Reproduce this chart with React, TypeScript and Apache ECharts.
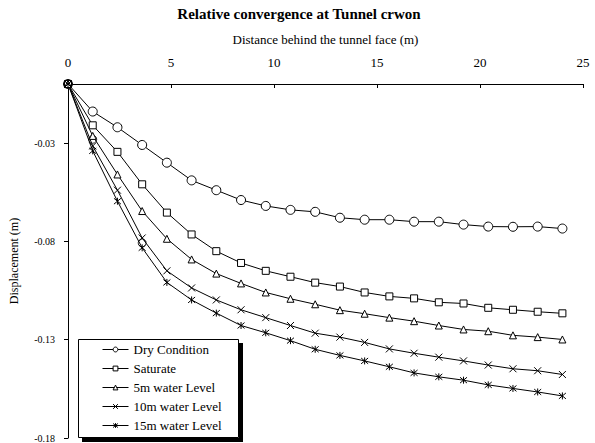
import React, { useEffect, useRef } from "react";
import * as echarts from "echarts";

const distance = [0, 1.2, 2.4, 3.6, 4.8, 6.0, 7.2, 8.4, 9.6, 10.8, 12.0, 13.2, 14.4, 15.6, 16.8, 18.0, 19.2, 20.4, 21.6, 22.8, 24.0];
const dryCondition = [0, -0.014, -0.022, -0.031, -0.040, -0.049, -0.054, -0.059, -0.062, -0.064, -0.065, -0.068, -0.069, -0.069, -0.070, -0.070, -0.0715, -0.0725, -0.0726, -0.0725, -0.0735];
const saturate = [0, -0.021, -0.0345, -0.051, -0.0654, -0.0765, -0.085, -0.091, -0.095, -0.098, -0.101, -0.103, -0.106, -0.108, -0.109, -0.111, -0.1116, -0.1138, -0.1148, -0.1158, -0.1166];
const water5m = [0, -0.0264, -0.046, -0.0646, -0.0787, -0.0892, -0.0964, -0.1014, -0.106, -0.1092, -0.112, -0.115, -0.1168, -0.1188, -0.1206, -0.1228, -0.1248, -0.1257, -0.1278, -0.1287, -0.1299];
const water10m = [0, -0.0315, -0.054, -0.0783, -0.095, -0.1037, -0.1098, -0.1148, -0.1188, -0.1228, -0.1267, -0.1287, -0.1314, -0.1347, -0.1369, -0.1389, -0.1408, -0.1429, -0.1448, -0.1458, -0.1477];
const water15m = [0, -0.034, -0.0596, -0.0833, -0.1009, -0.1098, -0.1165, -0.1228, -0.1265, -0.1305, -0.1349, -0.138, -0.1408, -0.1438, -0.1469, -0.1489, -0.1506, -0.153, -0.1548, -0.1566, -0.1586];
const strayX = [1.2, 3.6];
const strayY = [-0.0281, -0.0808];

const seriesNames = ["Dry Condition", "Saturate", "5m water Level", "10m water Level", "15m water Level"];
const yTickValues = [-0.18, -0.13, -0.08, -0.03];

const FONT = "Liberation Serif";
const CROSS = "path://M0,0L10,10M10,0L0,10";
const STAR = "path://M0,0L10,10M10,0L0,10M5,-1L5,11";

export default function App() {
  const ref = useRef<HTMLDivElement>(null);
  useEffect(() => {
    if (!ref.current) return;
    const chart = echarts.init(ref.current, undefined, { renderer: "svg" });
    const pairs = (ys: number[]) => distance.map((x, i) => [x, ys[i]]);
    const mk = (name: string, ys: number[], symbol: string, size: number) => ({
      name,
      type: "line",
      data: pairs(ys),
      symbol,
      symbolSize: size,
      showAllSymbol: true,
      lineStyle: { color: "#000", width: 1 },
      itemStyle: { color: "#fff", borderColor: "#000", borderWidth: 1 },
      emphasis: { disabled: true },
    });
    chart.setOption({
      animation: false,
      backgroundColor: "#fff",
      textStyle: { fontFamily: FONT },
      title: {
        text: "Relative convergence at Tunnel crwon",
        left: 294,
        textAlign: "center",
        top: 1,
        textStyle: { fontFamily: FONT, fontWeight: "bold", fontSize: 15, color: "#000" },
      },
      grid: { left: 65.5, top: 84, right: 12, bottom: 1, containLabel: false },
      graphic: [
        { type: "rect", z: 1, shape: { x: 78.5, y: 339.5, width: 160, height: 98 }, style: { fill: "#fff", stroke: "#000", lineWidth: 1 } },
        { type: "rect", z: 10, shape: { x: 239, y: 343, width: 4, height: 99 }, style: { fill: "#000", stroke: "none" } },
        { type: "rect", z: 10, shape: { x: 82, y: 438, width: 161, height: 4 }, style: { fill: "#000", stroke: "none" } },
      ],
      xAxis: {
        type: "value",
        position: "top",
        min: 0,
        max: 25,
        interval: 5,
        name: "Distance behind the tunnel face (m)",
        nameLocation: "middle",
        nameGap: 38,
        nameTextStyle: { fontFamily: FONT, fontSize: 13, color: "#000" },
        axisLine: { show: true, onZero: false, lineStyle: { color: "#000", width: 1 } },
        axisTick: { show: true, inside: true, length: 4, lineStyle: { color: "#000" } },
        axisLabel: { fontFamily: FONT, fontSize: 13, color: "#000", margin: 15 },
        splitLine: { show: false },
      },
      yAxis: {
        type: "value",
        min: -0.18,
        max: 0,
        name: "Displacement (m)",
        nameLocation: "middle",
        nameGap: 48,
        nameTextStyle: { fontFamily: FONT, fontSize: 12, color: "#000" },
        axisLine: { show: true, onZero: false, lineStyle: { color: "#000", width: 1 } },
        axisTick: { show: true, inside: false, length: 4, customValues: yTickValues, lineStyle: { color: "#000" } },
        axisLabel: {
          fontFamily: FONT,
          fontSize: 10,
          color: "#000",
          margin: 13,
          customValues: yTickValues,
          formatter: (v: number) => v.toFixed(2),
        },
        splitLine: { show: false },
      },
      legend: {
        orient: "vertical",
        left: 102,
        top: 343,
        z: 5,
        data: seriesNames,
        padding: 0,
        itemWidth: 26,
        itemHeight: 6,
        itemGap: 6,
        selectedMode: false,
        lineStyle: { width: 1 },
        itemStyle: { borderWidth: 1 },
        textStyle: { fontFamily: FONT, fontSize: 13, color: "#000" },
      },
      series: [
        mk(seriesNames[0], dryCondition, "circle", 9),
        mk(seriesNames[1], saturate, "rect", 7),
        mk(seriesNames[2], water5m, "triangle", 7),
        mk(seriesNames[3], water10m, CROSS, 7),
        mk(seriesNames[4], water15m, STAR, 7),
        {
          name: "stray",
          type: "scatter",
          data: strayX.map((x, i) => [x, strayY[i]]),
          symbol: "circle",
          symbolSize: 8,
          itemStyle: { color: "#fff", borderColor: "#000", borderWidth: 1 },
          emphasis: { disabled: true },
        },
      ],
    });
    return () => chart.dispose();
  }, []);
  return (
    <div
      ref={ref}
      style={{ position: "fixed", left: 0, top: 0, width: 595, height: 443, background: "#fff" }}
    />
  );
}
